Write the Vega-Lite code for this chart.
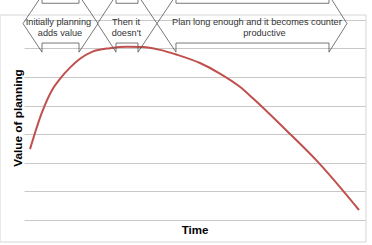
{
  "$schema": "https://vega.github.io/schema/vega-lite/v6.json",
  "width": 341,
  "height": 205,
  "autosize": "none",
  "padding": {"left": 24, "top": 15, "right": 7, "bottom": 25},
  "config": {
    "view": {"stroke": null},
    "font": "Liberation Sans",
    "axisX": {"title": "Time", "labels": false, "ticks": false, "domain": false, "grid": false,
      "titleFontSize": 11.5, "titleFontWeight": "bold", "titleColor": "#000", "titlePadding": 4},
    "axisY": {"values": [0, 1, 2, 3, 4, 5, 6], "labels": false, "ticks": false,
      "domain": false, "grid": true, "gridColor": "#c8c8c8", "gridWidth": 1.2,
      "titleFontSize": 11.8, "titleFontWeight": "bold", "titleColor": "#000", "titlePadding": 1}
  },
  "datasets": {
    "curve": [
      {"x": 1.76, "y": 2.48}, {"x": 5.19, "y": 3.74}, {"x": 8.5, "y": 4.6},
      {"x": 10.56, "y": 4.94}, {"x": 13.49, "y": 5.33}, {"x": 16.42, "y": 5.64},
      {"x": 19.94, "y": 5.88}, {"x": 25.22, "y": 6.01}, {"x": 30.21, "y": 6.06},
      {"x": 34.9, "y": 6.05}, {"x": 39.88, "y": 5.95}, {"x": 44.87, "y": 5.78},
      {"x": 51.6, "y": 5.49}, {"x": 57.2, "y": 5.14}, {"x": 63.3, "y": 4.66},
      {"x": 67.2, "y": 4.25}, {"x": 76.8, "y": 3.15}, {"x": 86.5, "y": 1.99},
      {"x": 98.24, "y": 0.35}
    ],
    "arrows": [
      {"a": 1, "i": 0, "x": -0.29, "y": 6.87}, {"a": 1, "i": 1, "x": 5.28, "y": 7.86},
      {"a": 1, "i": 2, "x": 5.28, "y": 7.58}, {"a": 1, "i": 3, "x": 16.13, "y": 7.58},
      {"a": 1, "i": 4, "x": 16.13, "y": 7.86}, {"a": 1, "i": 5, "x": 21.7, "y": 6.87},
      {"a": 1, "i": 6, "x": 16.13, "y": 5.87}, {"a": 1, "i": 7, "x": 16.13, "y": 6.19},
      {"a": 1, "i": 8, "x": 5.28, "y": 6.19}, {"a": 1, "i": 9, "x": 5.28, "y": 5.87},
      {"a": 1, "i": 10, "x": -0.29, "y": 6.87},
      {"a": 2, "i": 0, "x": 21.55, "y": 6.87}, {"a": 2, "i": 1, "x": 26.98, "y": 7.86},
      {"a": 2, "i": 2, "x": 26.98, "y": 7.58}, {"a": 2, "i": 3, "x": 33.43, "y": 7.58},
      {"a": 2, "i": 4, "x": 33.43, "y": 7.86}, {"a": 2, "i": 5, "x": 39.0, "y": 6.87},
      {"a": 2, "i": 6, "x": 33.43, "y": 5.87}, {"a": 2, "i": 7, "x": 33.43, "y": 6.19},
      {"a": 2, "i": 8, "x": 26.98, "y": 6.19}, {"a": 2, "i": 9, "x": 26.98, "y": 5.87},
      {"a": 2, "i": 10, "x": 21.55, "y": 6.87},
      {"a": 3, "i": 0, "x": 39.0, "y": 6.87}, {"a": 3, "i": 1, "x": 44.57, "y": 7.86},
      {"a": 3, "i": 2, "x": 44.57, "y": 7.58}, {"a": 3, "i": 3, "x": 89.44, "y": 7.58},
      {"a": 3, "i": 4, "x": 89.44, "y": 7.86}, {"a": 3, "i": 5, "x": 94.72, "y": 6.87},
      {"a": 3, "i": 6, "x": 89.44, "y": 5.87}, {"a": 3, "i": 7, "x": 89.44, "y": 6.19},
      {"a": 3, "i": 8, "x": 44.57, "y": 6.19}, {"a": 3, "i": 9, "x": 44.57, "y": 5.87},
      {"a": 3, "i": 10, "x": 39.0, "y": 6.87}
    ],
    "labels": [
      {"text": "Initially planning", "x": 10.1, "y": 6.93},
      {"text": "adds value", "x": 10.56, "y": 6.55},
      {"text": "Then it", "x": 29.9, "y": 6.93},
      {"text": "doesn't", "x": 30.0, "y": 6.55},
      {"text": "Plan long enough and it becomes counter", "x": 68.3, "y": 6.93},
      {"text": "productive", "x": 70.5, "y": 6.55}
    ]
  },
  "layer": [
    {
      "data": {"values": [{}]},
      "mark": {"type": "rect", "fill": null, "stroke": "#d6d6d6", "strokeWidth": 1, "clip": false},
      "encoding": {
        "x": {"datum": -7.04, "type": "quantitative", "scale": {"domain": [0, 100], "nice": false, "zero": false}, "title": "Time"},
        "x2": {"datum": 100.29},
        "y": {"datum": 7.17, "type": "quantitative", "scale": {"domain": [0, 7.17], "nice": false, "zero": false}, "title": "Value of planning"},
        "y2": {"datum": -0.77}
      }
    },
    {
      "data": {"name": "curve"},
      "mark": {"type": "line", "color": "#c0504d", "strokeWidth": 2, "interpolate": "monotone", "clip": false},
      "encoding": {
        "x": {"field": "x", "type": "quantitative", "title": "Time"},
        "y": {"field": "y", "type": "quantitative", "title": "Value of planning"}
      }
    },
    {
      "data": {"name": "arrows"},
      "mark": {"type": "line", "color": "#555555", "strokeWidth": 0.8, "clip": false},
      "encoding": {
        "x": {"field": "x", "type": "quantitative", "title": "Time"},
        "y": {"field": "y", "type": "quantitative", "title": "Value of planning"},
        "detail": {"field": "a", "type": "nominal"},
        "order": {"field": "i", "type": "quantitative"}
      }
    },
    {
      "data": {"name": "labels"},
      "mark": {"type": "text", "fontSize": 9.2, "color": "#333333", "baseline": "middle", "align": "center", "clip": false},
      "encoding": {
        "x": {"field": "x", "type": "quantitative", "title": "Time"},
        "y": {"field": "y", "type": "quantitative", "title": "Value of planning"},
        "text": {"field": "text"}
      }
    }
  ]
}
